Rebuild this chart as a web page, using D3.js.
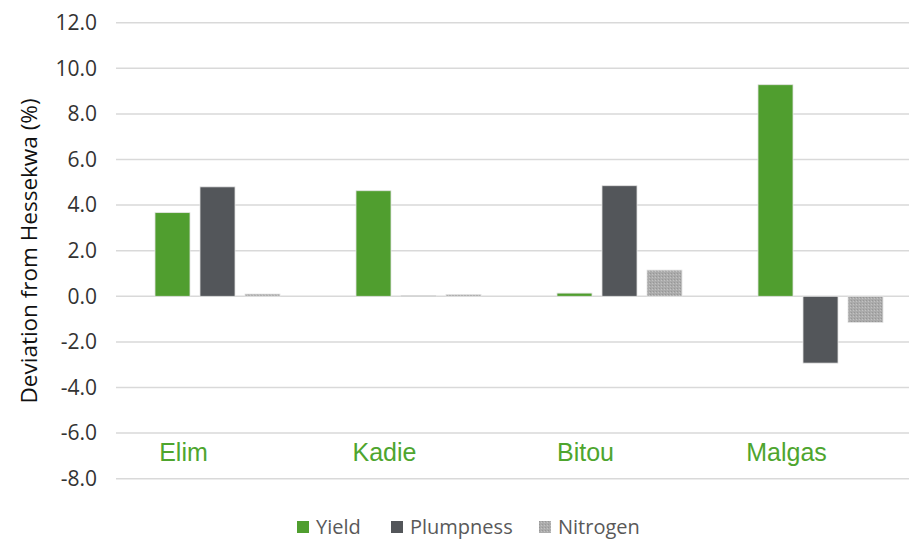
<!DOCTYPE html>
<html>
<head>
<meta charset="utf-8">
<script src="https://cdn.jsdelivr.net/npm/d3@7"></script>
<style>
  body { margin: 0; background: #fff; }
  svg { display: block; }
</style>
</head>
<body>
<svg></svg>
<script>
// data
var sites = ["Elim", "Kadie", "Bitou", "Malgas"];
var seriesNames = ["Yield", "Plumpness", "Nitrogen"];
var yieldVals = [3.67, 4.63, 0.14, 9.28];
var plumpVals = [4.80, 0.03, 4.85, -2.93];
var nitroVals = [0.10, 0.08, 1.15, -1.15];
var yTicks = [12, 10, 8, 6, 4, 2, 0, -2, -4, -6, -8];

var colors = ["#509E2F", "#53565A", "url(#dots)"];
var series = [yieldVals, plumpVals, nitroVals];

var width = 909, height = 541;
var svg = d3.select("svg")
    .attr("width", width)
    .attr("height", height);

// dotted fill for nitrogen
var defs = svg.append("defs");
var pat = defs.append("pattern")
    .attr("id", "dots")
    .attr("patternUnits", "userSpaceOnUse")
    .attr("width", 3)
    .attr("height", 3);
pat.append("rect").attr("width", 3).attr("height", 3).attr("fill", "#ababab");
pat.append("rect").attr("width", 1).attr("height", 1).attr("fill", "#979797");
pat.append("rect").attr("x", 2).attr("y", 1).attr("width", 1).attr("height", 1).attr("fill", "#c2c2c2");

var y = d3.scaleLinear()
    .domain([-8, 12])
    .range([478.7, 22.7]);

var x0 = d3.scaleBand()
    .domain(sites)
    .range([117, 921])
    .paddingInner(0.378)
    .paddingOuter(0.189);

var x1 = d3.scaleBand()
    .domain(seriesNames)
    .range([0, x0.bandwidth()])
    .paddingInner(0.222);

// gridlines
svg.append("g")
    .selectAll("line")
    .data(yTicks)
    .enter()
    .append("line")
    .attr("x1", 116)
    .attr("x2", width)
    .attr("y1", function(d) { return y(d); })
    .attr("y2", function(d) { return y(d); })
    .attr("stroke", "#d9d9d9")
    .attr("stroke-width", 1.5);

// y axis labels (hyphen minus like the original)
var yAxis = svg.append("g")
    .attr("transform", "translate(97,0)")
    .call(d3.axisLeft(y).tickValues(yTicks).tickSize(0).tickPadding(0)
        .tickFormat(function(d) { return d.toFixed(1); }));
yAxis.select(".domain").remove();
yAxis.selectAll("text")
    .attr("font-family", "Open Sans")
    .attr("font-size", 21)
    .attr("fill", "#333");

svg.append("text")
    .attr("transform", "translate(37,251) rotate(-90)")
    .attr("text-anchor", "middle")
    .attr("font-family", "Open Sans")
    .attr("font-size", 22.5)
    .attr("fill", "#111")
    .text("Deviation from Hessekwa (%)");

// bars
var groups = svg.selectAll(".site")
    .data(sites)
    .enter()
    .append("g")
    .attr("class", "site")
    .attr("transform", function(d) { return "translate(" + x0(d) + ",0)"; });

groups.selectAll("rect")
    .data(function(d, i) {
        return seriesNames.map(function(s, j) {
            return { name: s, value: series[j][i], color: colors[j] };
        });
    })
    .enter()
    .append("rect")
    .attr("x", function(d) { return x1(d.name); })
    .attr("width", x1.bandwidth())
    .attr("y", function(d) { return y(Math.max(0, d.value)); })
    .attr("height", function(d) { return Math.abs(y(d.value) - y(0)); })
    .attr("fill", function(d) { return d.color; })
    .attr("stroke", "#e4e4e4")
    .attr("stroke-width", 0.8);

// site labels
svg.selectAll(".siteLabel")
    .data(sites)
    .enter()
    .append("text")
    .attr("class", "siteLabel")
    .attr("x", function(d) { return x0(d) + x0.bandwidth() / 2 - 34; })
    .attr("y", 461)
    .attr("text-anchor", "middle")
    .attr("font-family", "Liberation Sans")
    .attr("font-size", 25)
    .attr("fill", "#4EA52E")
    .text(function(d) { return d; });

// legend
var legendX = [297, 391, 539];
var legend = svg.selectAll(".legend")
    .data(seriesNames)
    .enter()
    .append("g")
    .attr("class", "legend")
    .attr("transform", function(d, i) { return "translate(" + legendX[i] + ",521)"; });

legend.append("rect")
    .attr("width", 12)
    .attr("height", 12)
    .attr("fill", function(d, i) { return colors[i]; });

legend.append("text")
    .attr("x", 19)
    .attr("y", 13)
    .attr("font-family", "Open Sans")
    .attr("font-size", 20)
    .attr("fill", "#595959")
    .text(function(d) { return d; });
</script>
</body>
</html>
